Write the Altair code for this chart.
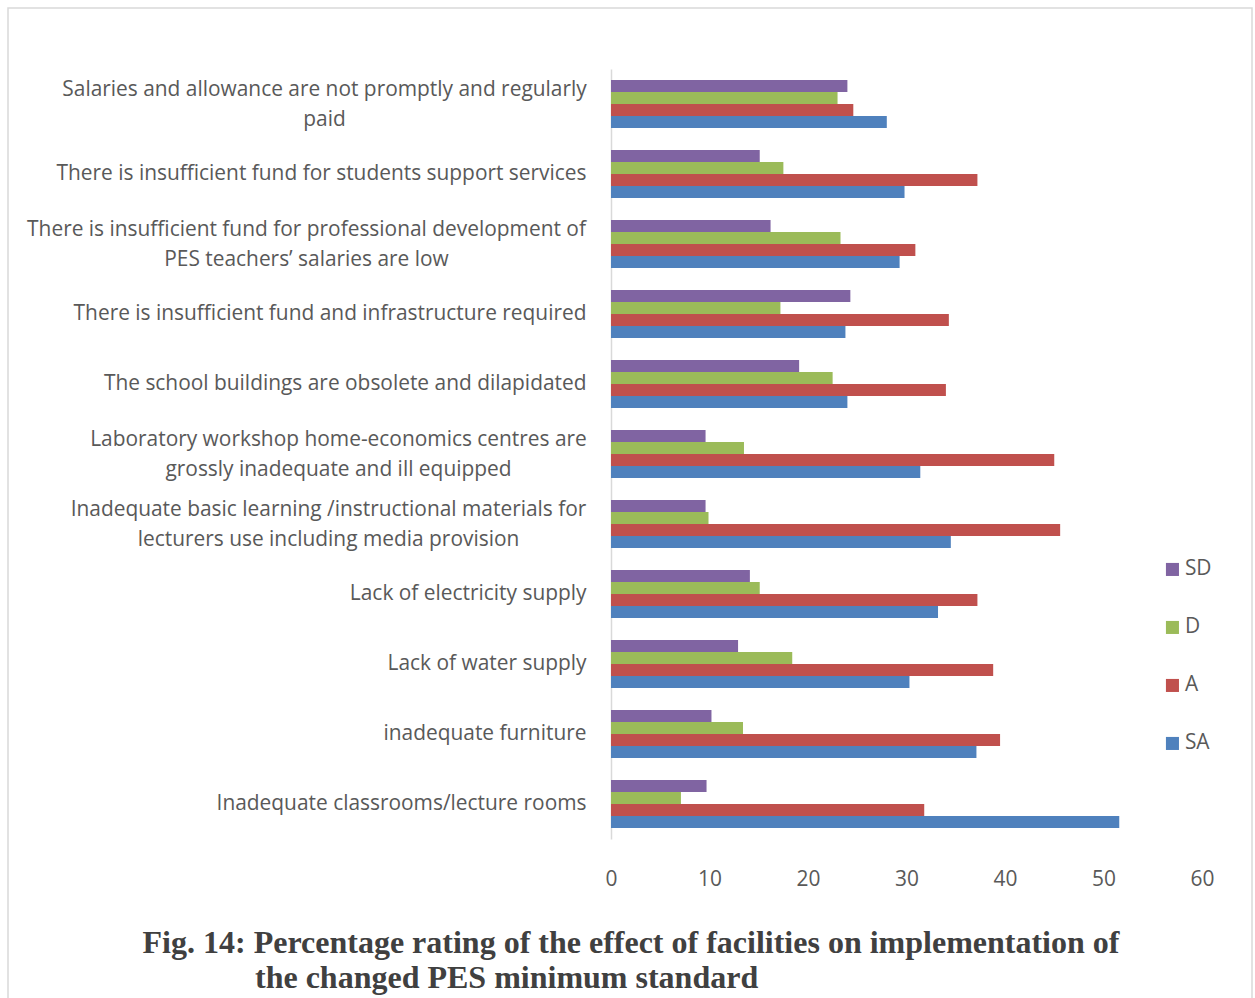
import altair as alt
import pandas as pd

categories = [
    "Salaries and allowance are not promptly and regularly\npaid",
    "There is insufficient fund for students support services",
    "There is insufficient fund for professional development of\nPES teachers’ salaries are low",
    "There is insufficient fund and infrastructure required",
    "The school buildings are obsolete and dilapidated",
    "Laboratory workshop home-economics centres are\ngrossly inadequate and ill equipped",
    "Inadequate basic learning /instructional materials for\nlecturers use including media provision",
    "Lack of electricity supply",
    "Lack of water supply",
    "inadequate furniture",
    "Inadequate classrooms/lecture rooms",
]
series = ["SD", "D", "A", "SA"]
sd = [24.0, 15.1, 16.2, 24.3, 19.1, 9.6, 9.6, 14.1, 12.9, 10.2, 9.7]
d = [23.0, 17.5, 23.3, 17.2, 22.5, 13.5, 9.9, 15.1, 18.4, 13.4, 7.1]
a = [24.6, 37.2, 30.9, 34.3, 34.0, 45.0, 45.6, 37.2, 38.8, 39.5, 31.8]
sa = [28.0, 29.8, 29.3, 23.8, 24.0, 31.4, 34.5, 33.2, 30.3, 37.1, 51.6]
colors = ["#8064A2", "#9BBB59", "#C0504D", "#4F81BD"]
x_ticks = [0, 10, 20, 30, 40, 50, 60]
caption = [
    "Fig. 14: Percentage rating of the effect of facilities on implementation of",
    "the changed PES minimum standard",
]

rows = []
for s, vals in zip(series, [sd, d, a, sa]):
    for c, v in zip(categories, vals):
        rows.append({"category": c, "series": s, "value": v})
df = pd.DataFrame(rows)

FONT = "Open Sans"
GRAY = "#595959"
FS = 20.9

# multi-line labels: lines centred under one another, block right edge at the axis gap
multi_pad = [
    ("Salaries", 25 + 262),
    ("professional", 25 + 280),
    ("Laboratory", 25 + 248),
    ("instructional", 25 + 258),
]
pad_conditions = [
    {"test": f"indexof(datum.value, '{key}') >= 0", "value": p} for key, p in multi_pad
]
is_multi = "indexof(datum.value, '\\n') >= 0"

bars = alt.Chart(df).mark_bar(height=12).encode(
    y=alt.Y(
        "category:N",
        sort=categories,
        title=None,
        scale=alt.Scale(paddingInner=0.314, paddingOuter=0.157),
        axis=alt.Axis(
            labelExpr="split(datum.label, '\\n')",
            labelFont=FONT,
            labelFontSize=FS,
            labelColor=GRAY,
            labelLineHeight=30,
            labelPadding={"condition": pad_conditions, "value": 25},
            labelAlign={"condition": {"test": is_multi, "value": "center"}, "value": "right"},
            labelOffset={"condition": {"test": is_multi, "value": -14}, "value": 0},
            labelLimit=700,
            ticks=False,
            domainColor="#D9D9D9",
            domainWidth=1.5,
        ),
    ),
    yOffset=alt.YOffset("series:N", sort=series, scale=alt.Scale(paddingInner=0, paddingOuter=0)),
    x=alt.X(
        "value:Q",
        title=None,
        scale=alt.Scale(domain=[0, 60]),
        axis=alt.Axis(
            values=x_ticks,
            grid=False,
            domain=False,
            ticks=False,
            labelFlush=False,
            labelFont=FONT,
            labelFontSize=FS,
            labelColor=GRAY,
            labelPadding=29,
        ),
    ),
    color=alt.Color(
        "series:N",
        sort=series,
        scale=alt.Scale(domain=series, range=colors),
        legend=alt.Legend(
            title=None,
            orient="none",
            legendX=551,
            legendY=490,
            symbolType="square",
            symbolSize=170,
            symbolStrokeWidth=0,
            labelFont=FONT,
            labelFontSize=FS,
            labelColor=GRAY,
            rowPadding=36,
            labelOffset=2,
        ),
    ),
)

cap_df = pd.DataFrame({"line": caption, "idx": [0, 1]})
cap1 = alt.Chart(cap_df[cap_df.idx == 0]).mark_text(
    align="center", baseline="alphabetic", font="Liberation Serif", fontWeight="bold",
    fontSize=32, color="#404040",
).encode(text="line:N", x=alt.value(20), y=alt.value(884))
cap2 = alt.Chart(cap_df[cap_df.idx == 1]).mark_text(
    align="left", baseline="alphabetic", font="Liberation Serif", fontWeight="bold",
    fontSize=32, color="#404040",
).encode(text="line:N", x=alt.value(-356), y=alt.value(919))

frame = alt.Chart(pd.DataFrame({"f": [0]})).mark_rect(
    fill="transparent", stroke="#D9D9D9", strokeWidth=1.5
).encode(x=alt.value(-603), x2=alt.value(641), y=alt.value(-61), y2=alt.value(945))

chart = alt.layer(frame, bars, cap1, cap2).properties(
    width=591,
    height=770,
    autosize=alt.AutoSizeParams(type="none"),
    padding={"left": 611, "top": 69, "right": 53, "bottom": 159},
    background="white",
).configure_view(stroke=None)

chart.save("out.html", embed_options={"renderer": "svg", "actions": False})
